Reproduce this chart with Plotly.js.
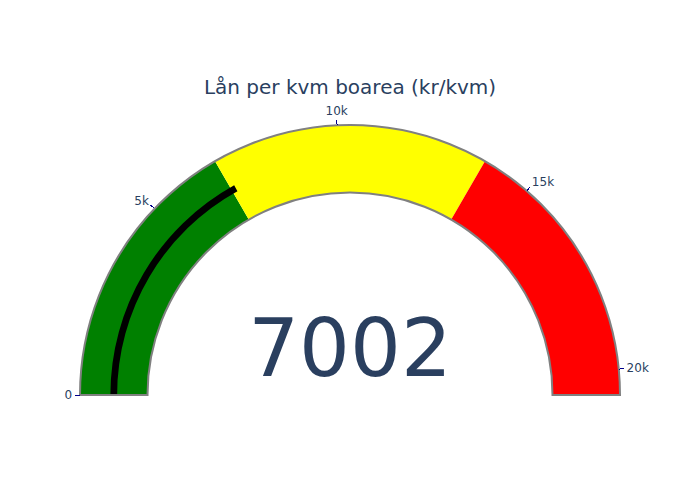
<!DOCTYPE html>
<html>
<head>
<meta charset="utf-8">
<script src="https://cdn.plot.ly/plotly-3.0.1.min.js"></script>
<style>body{margin:0;padding:0;}#chart{width:700px;height:500px;}</style>
</head>
<body>
<div id="chart"></div>
<script>
const chartTitle = "Lån per kvm boarea (kr/kvm)";
const value = 7002;
const gaugeRange = [0, 20630];
const stepRanges = [[0, 6877], [6877, 13753], [13753, 20630]];
const stepColors = ["green", "yellow", "red"];

const data = [{
  type: "indicator",
  mode: "gauge+number",
  value: value,
  title: {text: chartTitle, font: {size: 20}},
  number: {font: {color: "#2a3f5f"}, valueformat: "d"},
  gauge: {
    axis: {range: gaugeRange, tickcolor: "darkblue", tickwidth: 1},
    bar: {color: "black", thickness: 0.1},
    bgcolor: "white",
    borderwidth: 2,
    bordercolor: "gray",
    steps: stepRanges.map((r, i) => ({range: r, color: stepColors[i]}))
  }
}];

const layout = {
  width: 700, height: 500,
  font: {color: "#2a3f5f", family: "DejaVu Sans, verdana, arial, sans-serif"},
  paper_bgcolor: "white",
  margin: {l: 80, r: 80, t: 100, b: 80}
};
Plotly.newPlot("chart", data, layout, {displayModeBar: false});
</script>
</body>
</html>
